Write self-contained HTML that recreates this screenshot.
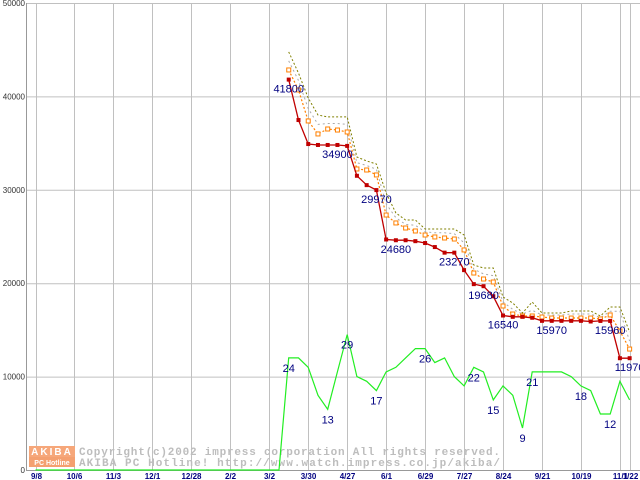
<!DOCTYPE html>
<html><head><meta charset="utf-8"><style>
html,body{margin:0;padding:0;background:#fff;}
svg{display:block;font-family:"Liberation Sans",sans-serif;}
</style></head><body>
<svg id="chart" width="640" height="480" viewBox="0 0 640 480" xmlns="http://www.w3.org/2000/svg">
<rect x="0" y="0" width="640" height="480" fill="#fff"/>
<g id="grid"></g><g id="wm"></g><g id="series"></g><g id="labels"></g>
</svg>
<script>
var xTickIdx=[0,4,8,12,16,20,24,28,32,36,40,44,48,52,56,60,61];
var xTickLabels=["9/8","10/6","11/3","12/1","12/28","2/2","3/2","3/30","4/27","6/1","6/29","7/27","8/24","9/21","10/19","11/1","1/22"];
var yTicks=[0,10000,20000,30000,40000,50000];
var startIdx=26;
var minPrice=[41800,37470,34900,34800,34800,34800,34700,31500,30500,29970,24680,24600,24600,24500,24300,23870,23270,23270,21400,19900,19680,18600,16540,16400,16400,16300,15970,15970,15970,15970,15970,15900,15960,15960,11970,11970];
var avgPrice=[42830,40690,37370,35980,36510,36400,36190,32230,32120,31590,27300,26450,25910,25590,25160,24950,24840,24730,23560,21090,20450,20130,17560,16700,16490,16490,16380,16270,16270,16270,16270,16270,16170,16600,14880,12950];
var grayPrice=[43800,41700,38700,37000,37100,37100,37000,32900,32600,32200,28500,27000,26300,26200,25500,25400,25400,25300,24300,21500,21000,20800,18000,17200,16700,17100,16600,16600,16600,16700,16700,16700,16300,17000,17000,13800];
var maxPrice=[44760,42500,39830,38010,37800,37800,37800,33510,33080,32760,29660,27520,26770,26770,25800,25800,25800,25800,25160,21950,21630,21630,18520,17880,16810,17990,16810,16810,16810,17020,17020,17020,16490,17450,17450,14780];
var shopCount=[0,0,0,0,0,0,0,0,0,0,0,0,0,0,0,0,0,0,0,0,0,0,0,0,0,0,24,24,22,16,13,21,29,20,19,17,21,22,24,26,26,23,24,20,18,22,21,15,18,16,9,21,21,21,21,20,18,17,12,12,19,15];
var priceLabelIdx=[26,31,35,37,43,46,48,53,59,61];
var priceLabelText=["41800","34900","29970","24680","23270","19680","16540","15970","15960","11970"];
var countLabelIdx=[26,30,32,35,40,45,47,50,51,56,59];
var countLabelText=["24","13","29","17","26","22","15","9","21","18","12"];

function xs(i){return 35.5+i*9.74;}
function ys(v){return 470-v*467/50000;}
var NS="http://www.w3.org/2000/svg";
function mk(tag,attrs,parent){var e=document.createElementNS(NS,tag);for(var k in attrs)e.setAttribute(k,attrs[k]);parent.appendChild(e);return e;}
var grid=document.getElementById('grid'),ser=document.getElementById('series'),lab=document.getElementById('labels'),wm=document.getElementById('wm');

yTicks.forEach(function(v){
  var l=mk('line',{x1:26,x2:640,y1:ys(v)+0.5,y2:ys(v)+0.5,stroke:'#c0c0c0','stroke-width':1},grid);
  
  
  var t=mk('text',{x:25,y:ys(v)+3,'text-anchor':'end','font-size':8,fill:'#333'},grid);
  t.textContent=String(v);
  
  
});
xTickIdx.forEach(function(ix,k){
  var x=Math.round(xs(ix))+0.5;
  var l=mk('line',{x1:x,x2:x,y1:3,y2:470,stroke:'#c0c0c0','stroke-width':1},grid);
  
  
  var t=mk('text',{x:x,y:479,'text-anchor':'middle','font-size':8,'font-weight':'bold',fill:'#000080'},grid);
  t.textContent=xTickLabels[k];
  
  
});
var ax=mk('line',{x1:26.5,x2:26.5,y1:3,y2:471,stroke:'#999'},grid);


var bx=mk('line',{x1:26,x2:640,y1:470.5,y2:470.5,stroke:'#999'},grid);



var lg=mk('rect',{x:29,y:446,width:46,height:11,fill:'#f6a77a'},wm);


var lg2=mk('rect',{x:29,y:457,width:46,height:10,fill:'#f4a070'},wm);


var lt=mk('text',{x:52,y:455,'text-anchor':'middle','font-size':10,'font-weight':'bold',fill:'#fff','letter-spacing':'2'},wm);
lt.textContent='AKIBA';


var lt2=mk('text',{x:52,y:465,'text-anchor':'middle','font-size':7,'font-weight':'bold',fill:'#fff'},wm);
lt2.textContent='PC Hotline';


var c1=mk('text',{x:79,y:455,'font-size':11,'font-family':'Liberation Mono, monospace',fill:'#bdbdbd','font-weight':'bold',textLength:421},wm);
c1.textContent='Copyright(c)2002 impress corporation All rights reserved.';


var c2=mk('text',{x:79,y:466,'font-size':11,'font-family':'Liberation Mono, monospace',fill:'#bdbdbd','font-weight':'bold',textLength:421},wm);
c2.textContent='AKIBA PC Hotline!  http://www.watch.impress.co.jp/akiba/';



function pts(arr,off){return arr.map(function(v,i){return xs(i+off).toFixed(1)+','+ys(v).toFixed(1);}).join(' ');}

var g=mk('polyline',{points:pts(shopCount.map(function(c){return c*500;}),0),fill:'none',stroke:'#22ee22','stroke-width':1.2},ser);


var ol=mk('polyline',{points:pts(maxPrice,startIdx),fill:'none',stroke:'#808000','stroke-width':1,'stroke-dasharray':'2,2'},ser);


var gr=mk('polyline',{points:pts(grayPrice,startIdx),fill:'none',stroke:'#aaa','stroke-width':1,'stroke-dasharray':'2,3'},ser);


var or=mk('polyline',{points:pts(avgPrice,startIdx),fill:'none',stroke:'#ff8000','stroke-width':1.2,'stroke-dasharray':'2,2'},ser);


avgPrice.forEach(function(v,i){
  var r=mk('rect',{x:xs(i+startIdx)-2,y:ys(v)-2,width:4,height:4,fill:'#fff',stroke:'#ff8000','stroke-width':1},ser);
  
  
});
var rd=mk('polyline',{points:pts(minPrice,startIdx),fill:'none',stroke:'#c00000','stroke-width':1.3},ser);


minPrice.forEach(function(v,i){
  var r=mk('rect',{x:xs(i+startIdx)-2,y:ys(v)-2,width:4,height:4,fill:'#c00000'},ser);
  
  
});
priceLabelIdx.forEach(function(ix,k){
  var t=mk('text',{x:xs(ix),y:ys(minPrice[ix-startIdx])+13,'text-anchor':'middle','font-size':11,fill:'#000080'},lab);
  t.textContent=priceLabelText[k];
  
  
});
countLabelIdx.forEach(function(ix,k){
  var t=mk('text',{x:xs(ix),y:ys(shopCount[ix]*500)+14,'text-anchor':'middle','font-size':11,fill:'#000080'},lab);
  t.textContent=countLabelText[k];
  
  
});
</script>
</body></html>
